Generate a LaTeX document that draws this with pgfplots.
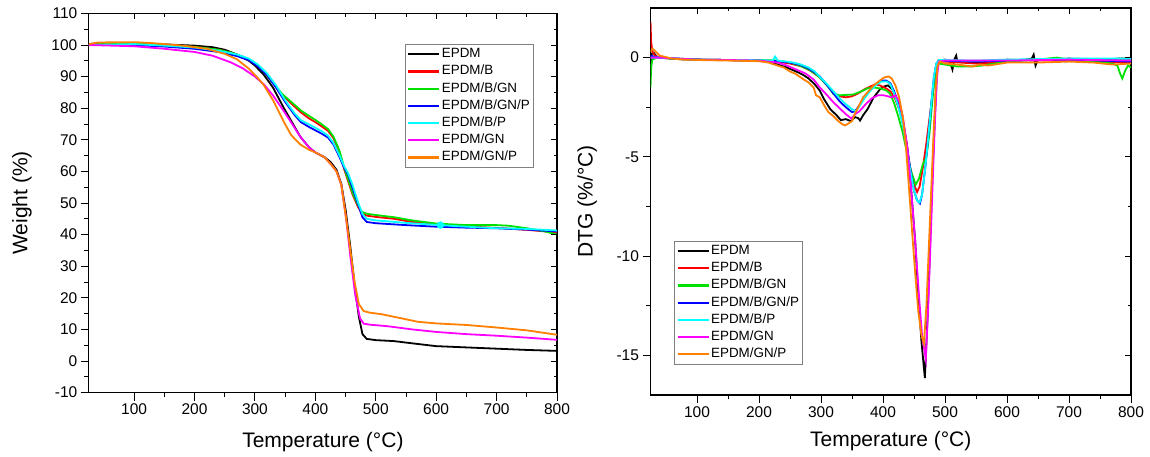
\documentclass[border=0pt]{standalone}
\usepackage{fontspec}
\setmainfont{Liberation Sans}
\usepackage{pgfplots}
\pgfplotsset{compat=1.18}

\definecolor{cBlack}{RGB}{0,0,0}
\definecolor{cRed}{RGB}{255,0,0}
\definecolor{cGreen}{RGB}{0,225,0}
\definecolor{cBlue}{RGB}{0,0,255}
\definecolor{cCyan}{RGB}{0,255,255}
\definecolor{cMagenta}{RGB}{255,0,255}
\definecolor{cOrange}{RGB}{255,128,0}

\pgfplotsset{
  tgabase/.style={
    scale only axis,
    anchor=south west,
    xmin=25, xmax=800,
    xtick={100,200,...,800},
    minor x tick num=1,
    minor y tick num=1,
    tick label style={font=\fontsize{15.5}{18}\selectfont},
    label style={font=\fontsize{21}{24}\selectfont},
    /pgf/number format/assume math mode=true,
    major tick length=8pt,
    minor tick length=4.5pt,
    every tick/.style={black, line width=0.9pt},
    axis line style={black, line width=1.1pt},
  },
  mirror/.style={
    tgabase,
    tick align=inside,
    xtick pos=right, ytick pos=right,
    xticklabels={}, yticklabels={},
    axis line style={draw=none},
    major tick length=6pt, minor tick length=3.5pt,
  },
  curve/.style={line width=1.8pt},
  legend image code/.code={\draw[#1, line width=2.2pt] (0pt,0pt) -- (31pt,0pt);},
  leg/.style={legend style={draw=gray, line width=0.8pt, inner sep=2pt,
      font=\fontsize{13.4}{15}\selectfont, cells={anchor=west},
      nodes={inner sep=1.5pt, text height=9.7pt, text depth=2.7pt}, row sep=1.8pt}},
}

\begin{document}
\begin{tikzpicture}
\useasboundingbox (0,0) rectangle (1150pt,457pt);

% ---------- left: TGA ----------
\begin{axis}[tgabase, at={(88.8pt,64.4pt)}, width=468.2pt, height=379.2pt,
  ymin=-10, ymax=110, ytick={-10,0,...,110},
  tick align=outside, xtick pos=left, ytick pos=left,
  xlabel={Temperature (°C)}, ylabel={Weight (\%)},
  xlabel style={at={(axis description cs:0.5,-0.1435)}, anchor=base},
  ylabel style={at={(axis description cs:-0.143,0.5)}, anchor=center},
  leg, legend style={at={(0.675,0.919)}, anchor=north west}]
\addplot[curve, cBlack] coordinates {
(25,100.2) (50,100.6) (100,100.5) (150,100.2) (200,99.8) (230,99.3) (250,98.5) (270,97)
(290,95) (300,93.5) (315,90.5) (330,86.5) (348,80) (360,76) (375,71) (390,67.5) (400,66)
(415,64.5) (425,63) (435,60.5) (443,56) (450,48) (458,36) (465,24) (472,14) (478,8.5)
(485,7) (500,6.6) (530,6.3) (560,5.6) (600,4.7) (650,4.3) (700,3.9) (750,3.5) (800,3.2)};
\addlegendentry{EPDM}
\addplot[curve, cRed] coordinates {
(25,100) (50,100.4) (100,100.5) (150,100.1) (200,99.4) (240,98.5) (260,97.6) (280,96.3)
(300,94.2) (315,91.5) (330,88) (345,84.3) (360,81.5) (376,78.7) (390,76.7) (400,75.6)
(410,74.3) (421,72.8) (430,70.5) (440,66) (448,60.5) (455,56.5) (462,52.5) (470,49)
(477,46.7) (485,46) (500,45.6) (530,45) (560,44) (600,43.3) (650,42.6) (700,42.1)
(750,41.5) (800,40.7)};
\addlegendentry{EPDM/B}
\addplot[curve, cGreen] coordinates {
(25,100) (50,100.4) (100,100.5) (150,100.1) (200,99.4) (240,98.5) (260,97.6) (280,96.3)
(300,94.2) (315,91.5) (330,88) (345,84.5) (360,82) (376,79.3) (390,77.5) (400,76.3)
(410,75) (421,73.4) (430,71) (440,66.5) (448,61) (455,57) (462,53) (470,49.5) (477,47.2)
(485,46.6) (500,46.2) (530,45.5) (560,44.5) (600,43.5) (650,43) (700,43) (720,42.8)
(750,42) (780,41) (800,40)};
\addlegendentry{EPDM/B/GN}
\addplot[curve, cBlue] coordinates {
(25,100) (100,100) (150,99.5) (200,98.8) (240,97.8) (270,96.5) (290,95.2) (305,93.2)
(320,90.5) (335,86.5) (350,82) (365,78) (376,75.6) (390,74) (400,73) (410,72) (421,70.7)
(430,68.5) (440,64.5) (448,61) (454,59) (462,54.5) (471,49.4) (478,45.5) (485,44)
(500,43.6) (550,43) (600,42.5) (650,42.2) (700,42) (750,41.6) (800,41)};
\addlegendentry{EPDM/B/GN/P}
\addplot[curve, cCyan] coordinates {
(25,100) (100,100.3) (150,99.8) (200,99.2) (240,98.2) (270,97) (290,95.7) (305,93.8)
(320,91) (335,87.2) (350,82.5) (365,78.5) (376,76.2) (390,74.8) (400,73.8) (410,72.8)
(421,71.3) (430,69) (440,65) (448,61.5) (454,59.5) (462,55.5) (471,50) (478,46.5)
(485,45) (500,44.5) (550,43.7) (607,43) (650,42.5) (700,42) (750,41.8) (800,41.3)};
\addlegendentry{EPDM/B/P}
\addplot[curve, cMagenta] coordinates {
(25,100) (100,99.6) (150,98.8) (200,97.8) (230,96.6) (260,94.5) (280,92.6) (300,90)
(315,87.5) (330,84) (348,79) (360,75.5) (375,71) (390,67.5) (400,66) (415,64.5)
(426,62.2) (435,60) (443,55.7) (451,45) (458,33) (466,21) (474,13.5) (480,11.8)
(490,11.5) (520,11) (560,10) (600,9.2) (650,8.5) (700,8) (750,7.4) (800,6.7)};
\addlegendentry{EPDM/GN}
\addplot[curve, cOrange] coordinates {
(25,100.3) (40,100.8) (100,100.9) (130,100.6) (180,99.8) (220,98.8) (250,97.2)
(270,95.5) (290,92.5) (305,89.5) (314,87.5) (330,82.5) (348,75.6) (360,71.5)
(375,68.5) (390,66.8) (400,66) (415,64.5) (426,62.2) (435,60) (443,55.7) (451,45)
(458,35) (465,25) (472,18) (480,15.8) (490,15.3) (510,14.8) (540,13.6) (570,12.4)
(600,11.9) (650,11.4) (700,10.6) (750,9.7) (800,8.3)};
\addlegendentry{EPDM/GN/P}
\addplot[only marks, mark=*, mark size=3.5pt, cCyan, forget plot] coordinates {(607,43)};
\end{axis}
\begin{axis}[mirror, at={(88.8pt,64.4pt)}, width=468.2pt, height=379.2pt,
  ymin=-10, ymax=110, ytick={-10,0,...,110}]
\end{axis}

% ---------- right: DTG ----------
\begin{axis}[tgabase, at={(650.5pt,62pt)}, width=480.5pt, height=387pt,
  ymin=-17, ymax=2.5, ytick={-15,-10,-5,0},
  tick align=outside, xtick pos=left, ytick pos=left,
  xlabel={Temperature (°C)}, ylabel={DTG (\%/°C)},
  xlabel style={at={(axis description cs:0.5,-0.1335)}, anchor=base},
  ylabel style={at={(axis description cs:-0.132,0.5)}, anchor=center},
  leg, legend style={at={(0.049,0.398)}, anchor=north west}]
\addplot[curve, cBlack] coordinates {
(25,-0.3) (27,0.2) (30,0.25) (35,0.05) (40,0) (60,-0.05) (80,-0.1) (100,-0.1) (120,-0.12)
(150,-0.12) (180,-0.15) (200,-0.15) (215,-0.2) (230,-0.35) (245,-0.5) (260,-0.7)
(270,-0.85) (280,-1.05) (290,-1.35) (298,-1.66) (305,-2.1) (315,-2.6) (325,-2.9)
(332,-3.15) (340,-3.1) (348,-3.2) (355,-3.0) (360,-3.05) (363,-3.17) (368,-2.9)
(375,-2.6) (385,-2.0) (395,-1.6) (402,-1.45) (408,-1.4) (415,-1.6) (420,-1.9)
(427,-2.5) (433,-3.3) (439,-4.5) (445,-6.5) (452,-9.3) (457,-12) (462,-14.3)
(467.5,-16.15) (472,-13) (476,-9.3) (479,-6.5) (482,-4.2) (485,-2) (487,-0.6)
(490,-0.15) (500,-0.1) (508,-0.2) (512,-0.6) (515,-0.1) (518,0.1) (520,-0.2) (540,-0.25)
(560,-0.25) (600,-0.15) (620,-0.15) (640,-0.05) (643,0.15) (646,-0.4) (650,-0.1)
(700,-0.05) (760,-0.1) (780,-0.05) (800,-0.05)};
\addlegendentry{EPDM}
\addplot[curve, cRed] coordinates {
(25,1.8) (26,0.8) (28,0.3) (32,0.1) (40,0) (60,-0.05) (100,-0.1) (150,-0.12) (200,-0.15)
(230,-0.2) (250,-0.3) (270,-0.45) (285,-0.7) (298,-1.0) (310,-1.4) (320,-1.75)
(330,-1.95) (340,-2.0) (350,-1.95) (360,-1.8) (370,-1.6) (380,-1.45) (387,-1.35)
(395,-1.4) (405,-1.55) (412,-1.7) (420,-2.1) (427,-2.7) (432,-3.3) (438,-4.3)
(443.5,-5.5) (450,-6.4) (455,-6.77) (459,-6.5) (464,-5.6) (470,-4.3) (476,-2.8)
(481,-1.6) (485,-0.6) (489,-0.15) (500,-0.2) (550,-0.3) (590,-0.25) (600,-0.1)
(650,-0.15) (700,-0.15) (750,-0.2) (800,-0.25)};
\addlegendentry{EPDM/B}
\addplot[curve, cGreen] coordinates {
(25,-1.5) (26,-0.5) (28,-0.1) (35,0) (60,-0.05) (100,-0.1) (150,-0.12) (200,-0.12)
(230,-0.15) (250,-0.25) (265,-0.4) (280,-0.6) (290,-0.8) (298,-1.0) (310,-1.4)
(320,-1.83) (330,-1.9) (340,-1.88) (352,-1.86) (365,-1.7) (375,-1.55) (384,-1.5)
(395,-1.55) (405,-1.65) (411,-1.8) (418,-2.3) (425,-3.0) (432,-3.8) (438,-4.7)
(445,-5.7) (452.7,-6.4) (458,-6.1) (464,-5.4) (470,-5.0) (475,-3.8) (481,-1.7)
(485,-0.7) (490,-0.3) (500,-0.35) (520,-0.45) (540,-0.45) (560,-0.4) (600,-0.2)
(650,-0.1) (680,0) (700,-0.1) (740,-0.2) (770,-0.3) (778,-0.4) (783,-0.85) (786,-1.05)
(790,-0.7) (795,-0.4) (800,-0.5)};
\addlegendentry{EPDM/B/GN}
\addplot[curve, cBlue] coordinates {
(25,0.1) (30,0.05) (40,0) (100,-0.1) (150,-0.12) (200,-0.15) (230,-0.18) (250,-0.25)
(265,-0.35) (280,-0.55) (290,-0.75) (298,-0.95) (310,-1.4) (320,-1.8) (330,-2.2)
(340,-2.5) (350,-2.75) (355,-2.7) (362,-2.4) (370,-2.0) (380,-1.6) (390,-1.3)
(398,-1.15) (405,-1.15) (412,-1.3) (418,-1.7) (425,-2.4) (432,-3.3) (438,-4.4)
(443.5,-5.5) (450,-6.7) (455,-7.2) (459.6,-7.35) (463,-6.9) (468,-5.6) (473,-4)
(478,-2.3) (482,-1.0) (486,-0.3) (490,-0.15) (550,-0.2) (600,-0.15) (700,-0.1)
(750,-0.15) (800,-0.2)};
\addlegendentry{EPDM/B/GN/P}
\addplot[curve, cCyan] coordinates {
(25,0) (40,0) (100,-0.1) (150,-0.12) (200,-0.13) (222,-0.15) (226,0.05) (230,-0.15)
(250,-0.22) (265,-0.32) (280,-0.5) (290,-0.7) (298,-0.97) (310,-1.35) (320,-1.7)
(330,-2.05) (340,-2.35) (350,-2.6) (356,-2.7) (362,-2.45) (370,-2.05) (380,-1.65)
(390,-1.35) (398,-1.2) (406,-1.2) (412,-1.35) (418,-1.8) (425,-2.5) (432,-3.4)
(438,-4.5) (443.5,-5.6) (450,-6.7) (455,-7.2) (459,-7.3) (463,-6.9) (468,-5.6)
(473,-4) (478,-2.3) (482,-1.0) (486,-0.3) (490,-0.12) (550,-0.15) (600,-0.1)
(700,-0.05) (800,-0.05)};
\addlegendentry{EPDM/B/P}
\addplot[curve, cMagenta] coordinates {
(25,0) (40,0) (100,-0.1) (150,-0.12) (200,-0.15) (230,-0.25) (245,-0.4) (260,-0.6)
(275,-0.8) (288,-1.1) (298,-1.5) (310,-1.9) (320,-2.25) (330,-2.55) (340,-2.85)
(349,-3.07) (355,-2.85) (362,-2.7) (372,-2.35) (382,-2.05) (392,-1.9) (401,-1.9)
(408,-1.95) (414,-2.0) (420,-1.9) (426,-2.2) (432,-3.0) (439,-4.5) (445,-6.5)
(452,-9.3) (458,-12) (463,-14) (469,-15.2) (473,-12.5) (477,-9) (481,-5.5) (484,-3)
(487,-1) (490,-0.2) (500,-0.15) (600,-0.15) (700,-0.1) (800,-0.15)};
\addlegendentry{EPDM/GN}
\addplot[curve, cOrange] coordinates {
(25,0.3) (28,0.45) (32,0.35) (40,0.1) (60,-0.05) (80,-0.1) (100,-0.12) (150,-0.15)
(200,-0.18) (215,-0.25) (230,-0.4) (240,-0.5) (250,-0.7) (258,-0.8) (265,-0.95)
(272,-1.1) (280,-1.25) (288,-1.5) (292,-1.9) (298,-2.0) (305,-2.4) (312,-2.75)
(320,-2.95) (328,-3.2) (334,-3.35) (339,-3.42) (345,-3.3) (350,-3.2) (355,-2.8)
(360,-2.5) (368,-2.0) (375,-1.75) (385,-1.4) (395,-1.15) (402,-1.0) (409,-0.95)
(414,-1.05) (420,-1.4) (426,-2.0) (432,-3.0) (437,-4.5) (442,-6.6) (447,-8.8)
(452,-10.9) (457,-12.8) (462,-14.0) (466,-14.4) (470,-12.5) (474,-9.5) (478,-6.5)
(482,-3.5) (485,-1.5) (488,-0.4) (492,-0.2) (500,-0.3) (520,-0.35) (545,-0.45)
(555,-0.35) (570,-0.4) (600,-0.25) (650,-0.25) (700,-0.2) (740,-0.25) (770,-0.35)
(800,-0.3)};
\addlegendentry{EPDM/GN/P}
\end{axis}
\begin{axis}[mirror, at={(650.5pt,62pt)}, width=480.5pt, height=387pt,
  ymin=-17, ymax=2.5, ytick={-15,-10,-5,0}]
\end{axis}
\end{tikzpicture}
\end{document}
